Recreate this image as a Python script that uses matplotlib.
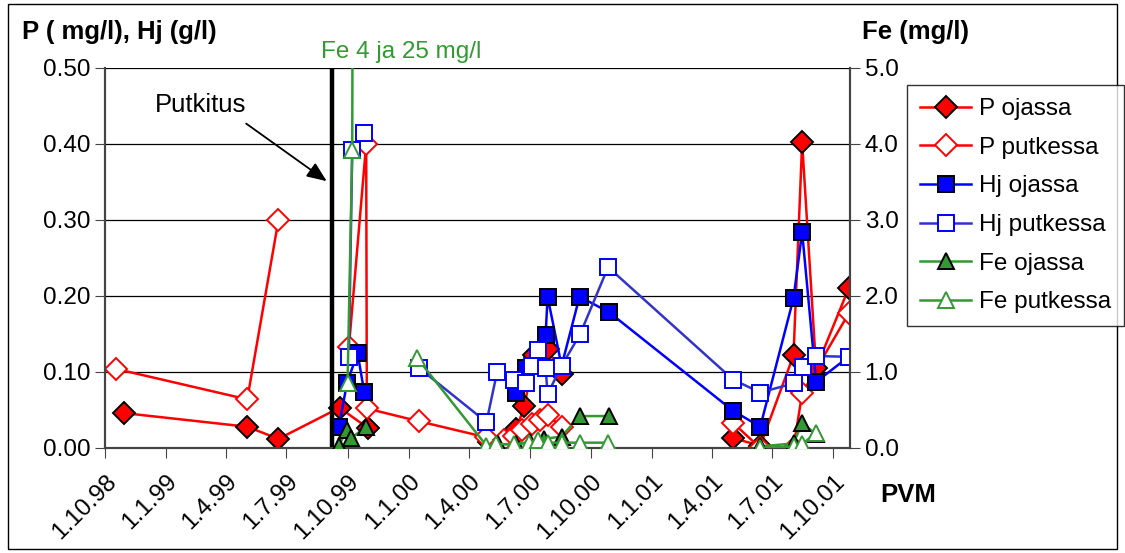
import numpy as np
import pandas as pd
import matplotlib
matplotlib.use("Agg")
import matplotlib.pyplot as plt
from matplotlib.patches import Rectangle

plt.rcParams['font.family'] = ['Liberation Sans', 'DejaVu Sans']

# ---------------- data ----------------
p_ojassa_dates = ['1998-10-29', '1999-05-03', '1999-06-19', '1999-09-19', '1999-11-01', '1999-12-15',
                  '2000-05-01', '2000-05-24', '2000-06-11', '2000-06-23', '2000-07-08', '2000-07-28',
                  '2000-08-18', '2001-01-01', '2001-05-03', '2001-06-13', '2001-08-02', '2001-08-15',
                  '2001-09-05', '2001-10-24']
p_ojassa = [0.046, 0.028, 0.012, 0.053, 0.026, None,
            0.008, 0.006, 0.025, 0.055, 0.122, 0.130,
            0.098, None, 0.013, 0.003, 0.122, 0.402,
            0.105, 0.210]

p_putkessa_dates = ['1998-10-18', '1999-05-03', '1999-06-19', '1999-08-01', '1999-10-03', '1999-10-29',
                    '1999-10-30', '2000-01-17', '2000-04-27', '2000-05-24', '2000-06-08', '2000-06-20',
                    '2000-07-05', '2000-07-16', '2000-07-28', '2000-08-18', '2000-12-01', '2001-05-03',
                    '2001-06-13', '2001-08-02', '2001-08-15', '2001-10-24']
p_putkessa = [0.104, 0.064, 0.300, None, 0.133, 0.400,
              0.052, 0.035, 0.014, 0.010, 0.016, 0.024,
              0.032, 0.037, 0.043, 0.028, None, 0.033,
              0.000, 0.000, 0.072, 0.177]

hj_ojassa_dates = ['1999-09-18', '1999-09-30', '1999-10-16', '1999-10-26', '2000-02-01', '2000-06-11',
                   '2000-06-25', '2000-07-25', '2000-07-28', '2000-08-18', '2000-09-14', '2000-10-28',
                   '2001-05-03', '2001-06-13', '2001-08-02', '2001-08-15', '2001-09-05', '2001-10-24']
hj_ojassa = [0.028, 0.085, 0.125, 0.074, None, 0.072,
             0.105, 0.149, 0.199, 0.108, 0.199, 0.179,
             0.049, 0.028, 0.197, 0.284, 0.087, 0.120]

hj_putkessa_dates = ['1999-10-03', '1999-10-08', '1999-10-26', '1999-12-01', '2000-01-17', '2000-04-27',
                     '2000-05-13', '2000-06-08', '2000-06-26', '2000-07-04', '2000-07-14', '2000-07-25',
                     '2000-07-28', '2000-08-18', '2000-09-15', '2000-10-27', '2001-05-03', '2001-06-13',
                     '2001-08-02', '2001-08-17', '2001-09-05', '2001-10-24']
hj_putkessa = [0.120, 0.392, 0.415, None, 0.105, 0.034,
               0.100, 0.089, 0.085, 0.108, 0.129, 0.105,
               0.071, 0.108, 0.150, 0.238, 0.090, 0.073,
               0.085, 0.107, 0.121, 0.120]

fe_ojassa_dates = ['1999-09-18', '1999-09-30', '1999-10-06', '1999-10-28', '2000-03-01', '2000-05-15',
                   '2000-06-10', '2000-07-01', '2000-07-22', '2000-08-18', '2000-09-14', '2000-10-28',
                   '2001-02-01', '2001-06-13', '2001-08-02', '2001-08-15', '2001-09-05']
fe_ojassa = [0.03, 0.24, 0.13, 0.27, None, 0.05,
             0.05, 0.08, 0.12, 0.15, 0.42, 0.42,
             None, 0.02, 0.06, 0.33, 0.18]

fe_putkessa_dates = ['1999-10-01', '1999-10-08', '1999-10-14', '1999-12-01', '2000-01-14', '2000-04-27',
                     '2000-05-11', '2000-06-08', '2000-06-30', '2000-07-14', '2000-07-28', '2000-08-18',
                     '2000-09-14', '2000-10-27', '2001-02-01', '2001-06-13', '2001-08-02', '2001-08-15',
                     '2001-09-05']
fe_putkessa = [0.86, 3.92, 25.0, None, 1.18, 0.03,
               0.05, 0.05, 0.07, 0.10, 0.07, 0.07,
               0.07, 0.07, None, 0.00, 0.02, 0.05,
               0.20]

putkitus_date = '1999-09-08'
left_ticks = [0.0, 0.1, 0.2, 0.3, 0.4, 0.5]
right_ticks = [0.0, 1.0, 2.0, 3.0, 4.0, 5.0]
x_tick_dates = pd.date_range('1998-10-01', '2001-10-01', freq='3MS')


def arr(v):
    return np.array([np.nan if a is None else a for a in v], dtype=float)


def dts(d):
    return pd.to_datetime(d)


RED = '#FF0000'
BLUE = '#0000FF'
BLUE2 = '#3333CC'
GREEN = '#339933'

W, H = 1125, 553
fig = plt.figure(figsize=(W / 100, H / 100), dpi=100)
ax = fig.add_axes([105 / W, 1 - 448 / H, (850 - 105) / W, (448 - 68) / H])
ax2 = ax.twinx()

lw = 1.8
mew = 1.4
ax.plot(dts(p_ojassa_dates), arr(p_ojassa), color=RED, lw=lw, marker='D', ms=11,
        mfc=RED, mec='black', mew=mew, label='P ojassa', zorder=3)
ax.plot(dts(p_putkessa_dates), arr(p_putkessa), color=RED, lw=lw, marker='D', ms=11,
        mfc='white', mec=RED, mew=mew, label='P putkessa', zorder=3)
ax.plot(dts(hj_ojassa_dates), arr(hj_ojassa), color=BLUE, lw=lw, marker='s', ms=11.5,
        mfc=BLUE, mec='black', mew=mew, label='Hj ojassa', zorder=3)
ax.plot(dts(hj_putkessa_dates), arr(hj_putkessa), color=BLUE2, lw=lw, marker='s', ms=11.5,
        mfc='white', mec=BLUE, mew=mew, label='Hj putkessa', zorder=3)
l5, = ax2.plot(dts(fe_ojassa_dates), arr(fe_ojassa), color=GREEN, lw=lw, marker='^', ms=11,
               mfc=GREEN, mec='black', mew=mew, label='Fe ojassa', zorder=3)
l6, = ax2.plot(dts(fe_putkessa_dates), arr(fe_putkessa), color=GREEN, lw=lw, marker='^', ms=11,
               mfc='white', mec=GREEN, mew=mew, label='Fe putkessa', zorder=3)

ax.axvline(dts(putkitus_date), color='black', lw=3.2, zorder=4)

ax.set_ylim(0, 0.5)
ax2.set_ylim(0, 5)
ax.set_xlim(dts('1998-10-01'), dts('2001-10-26'))
ax.set_yticks(left_ticks)
ax.set_yticklabels([f'{t:.2f}' for t in left_ticks])
ax2.set_yticks(right_ticks)
ax2.set_yticklabels([f'{t:.1f}' for t in right_ticks])
ax.set_xticks(x_tick_dates)
ax.set_xticklabels([f'{d.day}.{d.month}.{d:%y}' for d in x_tick_dates],
                   rotation=45, ha='right', va='top', rotation_mode='anchor')
ax.grid(axis='y', color='black', lw=0.9)
ax.set_axisbelow(True)
ax.tick_params(axis='both', labelsize=17.5, direction='out', length=7, color='#444444')
ax.tick_params(axis='x', pad=9)
ax2.tick_params(axis='y', labelsize=17.5, direction='out', length=7, color='#444444')
for a in (ax, ax2):
    a.spines['top'].set_visible(False)
    for s in ('left', 'right', 'bottom'):
        a.spines[s].set_color('#444444')
        a.spines[s].set_linewidth(1.5)

# annotations
ax.annotate('', xy=(dts('1999-09-03'), 0.349), xytext=(dts('1999-04-28'), 0.429),
            arrowprops=dict(arrowstyle='-|>,head_length=1.2,head_width=0.5', color='black', lw=1.3),
            zorder=5)
ax.text(dts('1999-02-22'), 0.451, 'Putkitus', fontsize=18.5, ha='center', va='center')
ax.text(dts('1999-08-22'), 0.521, 'Fe 4 ja 25 mg/l', fontsize=17.5, color=GREEN,
        ha='left', va='center', clip_on=False)

fig.text(22 / W, 1 - 32 / H, 'P ( mg/l), Hj (g/l)', fontsize=18.5, fontweight='bold', va='center')
fig.text(862 / W, 1 - 32 / H, 'Fe (mg/l)', fontsize=18.5, fontweight='bold', va='center')
fig.text(880 / W, 1 - 495 / H, 'PVM', fontsize=18.5, fontweight='bold', va='center')

handles = ax.get_lines()[:4] + [l5, l6]
leg = fig.legend(handles=handles, loc='upper left', bbox_to_anchor=(907 / W, 1 - 85 / H),
                 borderaxespad=0, fontsize=17.5, frameon=True, fancybox=False, edgecolor='black',
                 handlelength=2.1, labelspacing=0.68, borderpad=0.55, handletextpad=0.3)
leg.get_frame().set_linewidth(1.0)

fig.patches.append(Rectangle((8 / W, 4 / H), 1 - 16 / W, 1 - 8 / H, transform=fig.transFigure,
                             fill=False, edgecolor='black', lw=1.0))

fig.savefig('out.png', dpi=100)
